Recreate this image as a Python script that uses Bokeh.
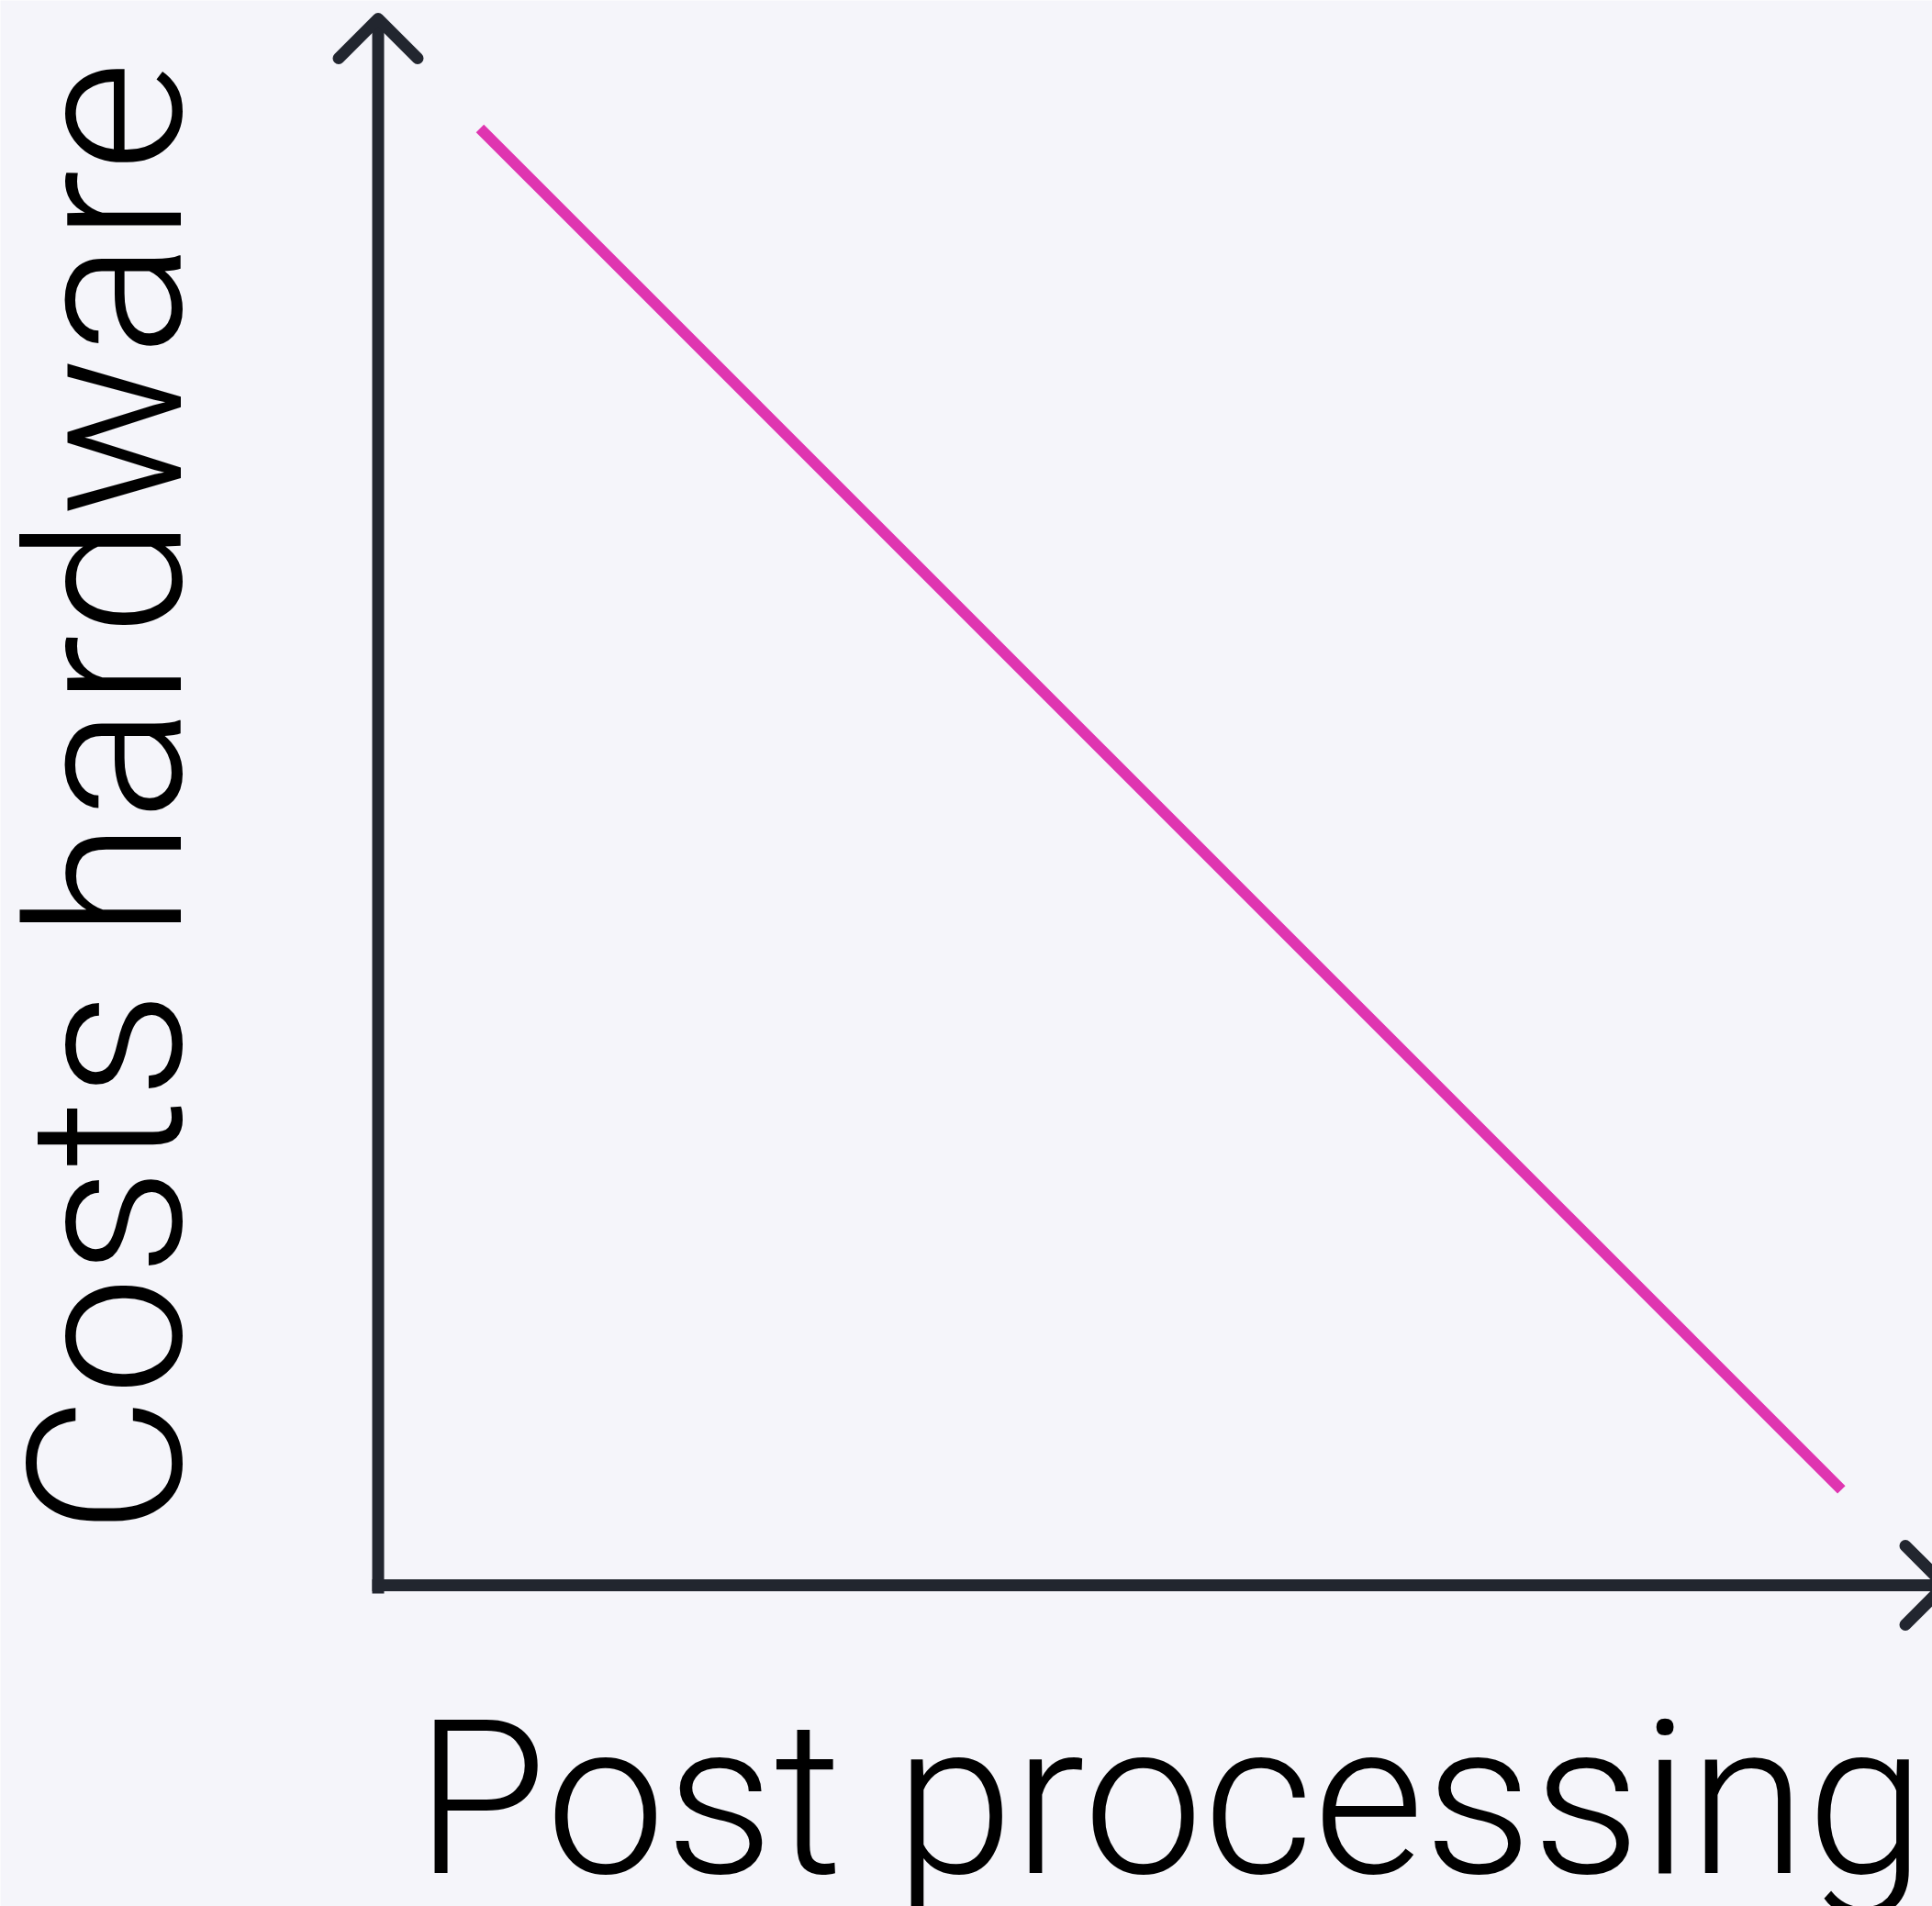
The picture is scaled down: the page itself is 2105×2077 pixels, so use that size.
import math
from bokeh.plotting import figure
from bokeh.models import Range1d, Label
from bokeh.embed import file_html
from bokeh.resources import INLINE

# ---- data (schematic: cost of hardware vs. post processing) ----
post_processing = [0.065, 0.934]
costs_hardware = [0.930, 0.061]
x_label = "Post processing"
y_label = "Costs hardware"
axis_max = 1.0

# ---- layout / style ----
BG = "#f5f5fa"
AXIS = "#22262f"
PINK = "#df35b0"
FONT = "Roboto Light"
FS = 233
BASE_SHIFT = 0.342 * FS   # renderer places the baseline this far below the anchor

W, H = 2105, 2077
U = 1707.0              # pixels per data unit (same on both axes)
OX, OY = 411.5, 1727.0  # origin position in canvas px (from left / from top)


def dx(px):
    return (px - OX) / U


def dy(py):
    return (OY - py) / U


p = figure(width=W, height=H, output_backend="svg", toolbar_location=None,
           x_range=Range1d(-OX / U, (W - OX) / U),
           y_range=Range1d(-(H - OY) / U, OY / U),
           min_border=0, background_fill_color=BG, border_fill_color=BG,
           outline_line_color=None)
p.axis.visible = False
p.grid.visible = False

# trend line
p.line(post_processing, costs_hardware, line_width=12, line_color=PINK, line_cap="butt")

# axis shafts
lw = 13
p.segment(x0=[0, -6.5 / U], y0=[-9 / U, 0], x1=[0, axis_max], y1=[axis_max, 0],
          line_width=lw, line_color=AXIS, line_cap="butt")
# arrow heads
d = 43 / U
p.multi_line(xs=[[-d, 0, d], [axis_max - d, axis_max, axis_max - d]],
             ys=[[axis_max - d, axis_max, axis_max - d], [d, 0, -d]],
             line_width=lw, line_color=AXIS, line_cap="round", line_join="round")

# axis titles
p.add_layout(Label(x=dx(452), y=dy(2041 - BASE_SHIFT), text=x_label,
                   text_font=FONT, text_font_size=f"{FS}px", text_color="black",
                   text_align="left", text_baseline="alphabetic"))
p.add_layout(Label(x=dx(197 - BASE_SHIFT), y=dy(1672), text=y_label,
                   angle=math.pi / 2, text_font=FONT, text_font_size=f"{FS}px",
                   text_color="black", text_align="left", text_baseline="alphabetic"))

open("out.html", "w").write(file_html(p, INLINE))
